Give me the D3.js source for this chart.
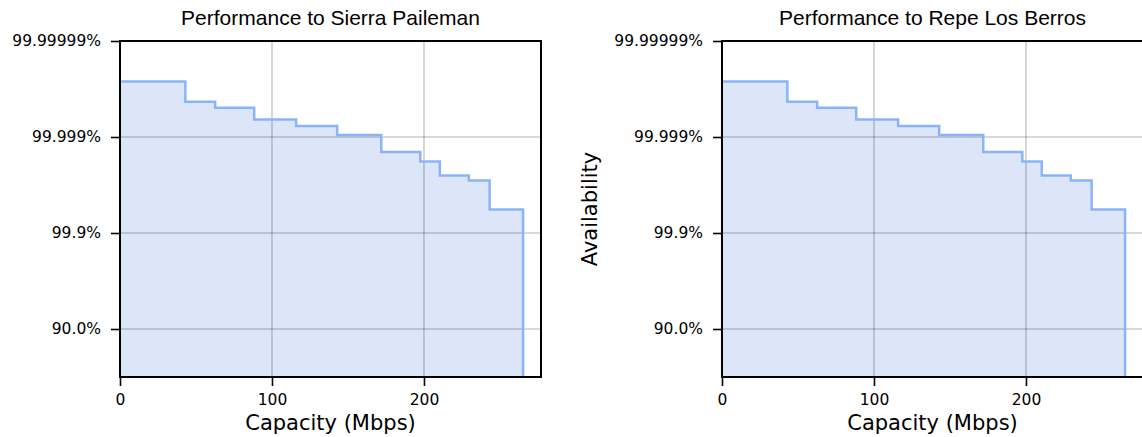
<!DOCTYPE html>
<html>
<head>
<meta charset="utf-8">
<script src="https://cdn.jsdelivr.net/npm/d3@7"></script>
<style>
  body { margin: 0; background: #fff; }
  svg { display: block; }
</style>
</head>
<body>
<svg id="chart" width="1142" height="437"></svg>
<script>
// data (both links look the same)
const sites = ["Sierra Paileman", "Repe Los Berros"];
const capacity = [0, 43, 62.6, 88.3, 115.9, 142.9, 171.9, 197.6, 210.4, 229.5, 243.2, 265.2];
const availability = [99.99993, 99.999815, 99.999754, 99.99957, 99.999408, 99.99909,
                      99.99795, 99.99675, 99.99365, 99.99193, 99.9677];
const yTicks = [1e-7, 1e-5, 1e-3, 1e-1];
const yTickLabels = ["99.99999%", "99.999%", "99.9%", "90.0%"];
const xTicks = [0, 100, 200];

const svg = d3.select("#chart");
const plotTop = 41, plotBottom = 377;
const panels = [{ x0: 120, x1: 541 }, { x0: 722, x1: 1143 }];

const lineColor = "#8ab4f8";
const fillColor = "#dce6f8";

// unavailability = 1 - availability
const pts = capacity.map((c, i) => {
    const a = i < availability.length ? availability[i] : availability[availability.length - 1];
    return { x: c, u: 1 - a / 100 };
});
pts.push({ x: capacity[capacity.length - 1], u: 1 });

sites.forEach((site, k) => {
    const p = panels[k];
    const x = d3.scaleLinear().domain([0, 277]).range([p.x0, p.x1]);
    const y = d3.scaleLog().domain([1, 1e-7]).range([plotBottom, plotTop]);
    const g = svg.append("g");

    //fill under the step line
    const area = d3.area()
        .curve(d3.curveStepAfter)
        .x(d => x(d.x))
        .y0(plotBottom)
        .y1(d => y(d.u));
    g.append("path")
        .datum(pts)
        .attr("d", area)
        .attr("fill", fillColor);

    //grid
    xTicks.forEach(t => {
        g.append("line")
            .attr("x1", x(t)).attr("x2", x(t))
            .attr("y1", plotTop).attr("y2", plotBottom)
            .attr("stroke", "rgba(0,0,0,0.2)")
            .attr("stroke-width", 1.6);
    });
    yTicks.forEach(t => {
        g.append("line")
            .attr("x1", p.x0).attr("x2", p.x1)
            .attr("y1", y(t)).attr("y2", y(t))
            .attr("stroke", "rgba(0,0,0,0.2)")
            .attr("stroke-width", 1.6);
    });

    //step line
    const line = d3.line()
        .curve(d3.curveStepAfter)
        .x(d => x(d.x))
        .y(d => y(d.u));
    g.append("path")
        .datum(pts)
        .attr("d", line)
        .attr("fill", "none")
        .attr("stroke", lineColor)
        .attr("stroke-width", 2.5);

    //axes
    const xAxis = d3.axisBottom(x).tickValues(xTicks).tickSize(9).tickPadding(8).tickSizeOuter(0);
    const yAxis = d3.axisLeft(y).tickValues(yTicks).tickSize(9).tickPadding(10).tickSizeOuter(0)
        .tickFormat((d, i) => yTickLabels[i]);

    const gx = g.append("g").attr("transform", `translate(0,${plotBottom})`).call(xAxis);
    const gy = g.append("g").attr("transform", `translate(${p.x0},0)`).call(yAxis);
    [gx, gy].forEach(a => {
        a.select(".domain").remove();
        a.selectAll("line").attr("stroke", "#000").attr("stroke-width", 1.6);
        a.selectAll("text")
            .attr("fill", "#000")
            .style("font-family", "DejaVu Sans")
            .style("font-size", "15.5px");
    });

    //frame
    g.append("rect")
        .attr("x", p.x0).attr("y", plotTop)
        .attr("width", p.x1 - p.x0).attr("height", plotBottom - plotTop)
        .attr("fill", "none")
        .attr("stroke", "#000")
        .attr("stroke-width", 2);

    //title
    g.append("text")
        .attr("x", (p.x0 + p.x1) / 2)
        .attr("y", 25)
        .attr("text-anchor", "middle")
        .style("font-family", "Liberation Sans, Arial, sans-serif")
        .style("font-size", "21px")
        .text("Performance to " + site);

    g.append("text")
        .attr("x", (p.x0 + p.x1) / 2)
        .attr("y", 430)
        .attr("text-anchor", "middle")
        .style("font-family", "DejaVu Sans")
        .style("font-size", "21px")
        .text("Capacity (Mbps)");
});

svg.append("text")
    .attr("transform", "translate(597,209) rotate(-90)")
    .attr("text-anchor", "middle")
    .style("font-family", "DejaVu Sans")
    .style("font-size", "21px")
    .text("Availability");
</script>
</body>
</html>
